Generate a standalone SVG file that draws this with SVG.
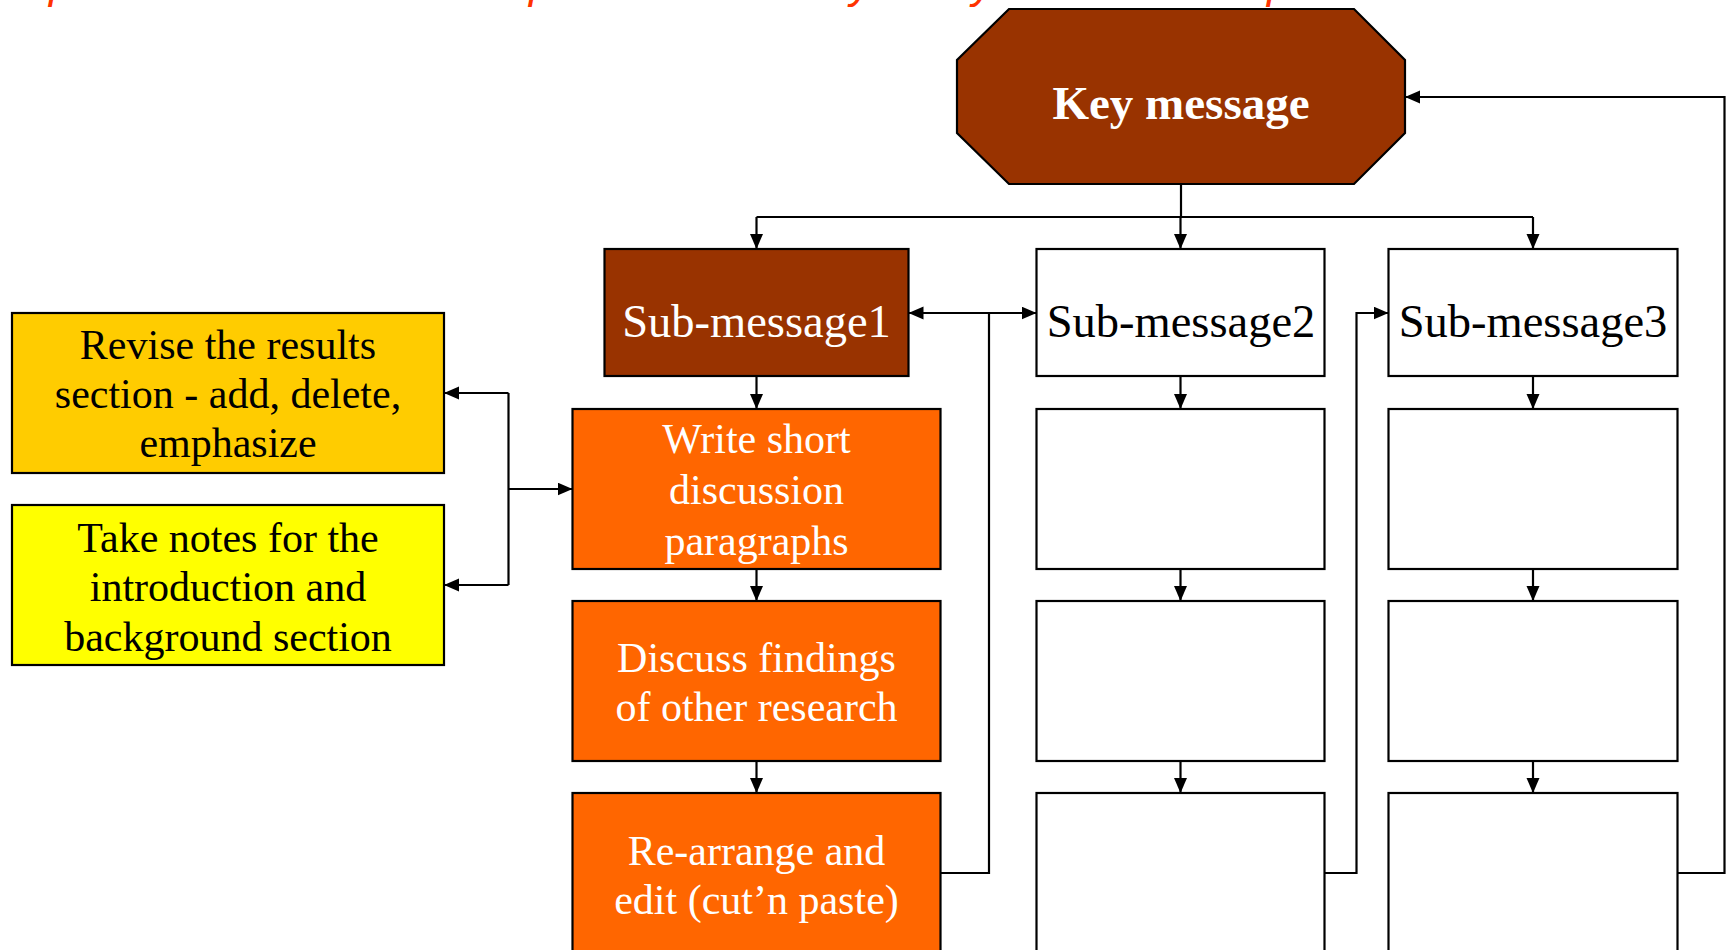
<svg xmlns="http://www.w3.org/2000/svg" width="1729" height="950" viewBox="0 0 1729 950">
  <style>
    .box { stroke: #000; stroke-width: 2.2; }
    .brown { fill: #993300; }
    .orange { fill: #FF6600; }
    .amber { fill: #FFCC00; }
    .yellow { fill: #FFFF00; }
    .white { fill: #FFFFFF; }
    .t { font-family: "Liberation Serif", "Times New Roman", serif; text-anchor: middle; }
    .tb { font-size: 42px; }
    .ts { font-size: 46.5px; }
    .tk { font-size: 47px; font-weight: bold; }
    .tw { fill: #FFFFFF; }
    .tk0 { fill: #000000; }
    .conn { fill: none; stroke: #000; stroke-width: 2.2; }
    .title { font-family: "Liberation Sans", Arial, sans-serif; font-style: italic; font-size: 44px; fill: #FF3300; }
  </style>
  <defs>
    <marker id="arr" markerUnits="userSpaceOnUse" markerWidth="16" markerHeight="14" refX="15" refY="6.5" orient="auto-start-reverse">
      <path d="M0,0 L15,6.5 L0,13 Z" fill="#000"/>
    </marker>
  </defs>
  <rect width="1729" height="950" fill="#FFFFFF"/>

  <!-- clipped red title (only descenders visible) -->
  <g id="title">
    <text class="title" x="49" y="-2">p</text>
    <text class="title" x="529" y="-2">p</text>
    <text class="title" x="850" y="-2">y</text>
    <text class="title" x="972" y="-2">y</text>
    <text class="title" x="1267" y="-2">p</text>
  </g>

  <g id="connectors">
    <!-- key to sub-messages -->
    <path class="conn" d="M1181,184 V217"/>
    <path class="conn" d="M756.5,217 H1533"/>
    <path class="conn" marker-end="url(#arr)" d="M756.5,217 V249"/>
    <path class="conn" marker-end="url(#arr)" d="M1180.5,217 V249"/>
    <path class="conn" marker-end="url(#arr)" d="M1533,217 V249"/>
    <!-- column 1 down arrows -->
    <path class="conn" marker-end="url(#arr)" d="M756.5,376 V409"/>
    <path class="conn" marker-end="url(#arr)" d="M756.5,569 V601"/>
    <path class="conn" marker-end="url(#arr)" d="M756.5,761 V793"/>
    <!-- column 2 down arrows -->
    <path class="conn" marker-end="url(#arr)" d="M1180.5,376 V409"/>
    <path class="conn" marker-end="url(#arr)" d="M1180.5,569 V601"/>
    <path class="conn" marker-end="url(#arr)" d="M1180.5,761 V793"/>
    <!-- column 3 down arrows -->
    <path class="conn" marker-end="url(#arr)" d="M1533,376 V409"/>
    <path class="conn" marker-end="url(#arr)" d="M1533,569 V601"/>
    <path class="conn" marker-end="url(#arr)" d="M1533,761 V793"/>
    <!-- sub1 <-> sub2 -->
    <path class="conn" marker-start="url(#arr)" marker-end="url(#arr)" d="M908.5,313 H1036.5"/>
    <path class="conn" d="M940.5,873 H989 V313"/>
    <!-- col2 -> sub3 -->
    <path class="conn" marker-end="url(#arr)" d="M1324.5,873 H1356.5 V313 H1388.5"/>
    <!-- col3 -> key -->
    <path class="conn" marker-end="url(#arr)" d="M1677.5,873 H1724.5 V97 H1405"/>
    <!-- left side -->
    <path class="conn" d="M508.5,393 V585"/>
    <path class="conn" marker-end="url(#arr)" d="M508.5,393 H444"/>
    <path class="conn" marker-end="url(#arr)" d="M508.5,585 H444"/>
    <path class="conn" marker-end="url(#arr)" d="M508.5,489 H572.5"/>
  </g>

  <g id="key-message">
    <polygon class="box brown" points="1009,9 1354,9 1405,60 1405,133 1354,184 1009,184 957,133 957,60"/>
    <text class="t tk tw" x="1181" y="119">Key message</text>
  </g>

  <g id="sub-message1">
    <rect class="box brown" x="604.5" y="249" width="304" height="127"/>
    <text class="t ts tw" x="756.5" y="336.5">Sub-message1</text>
  </g>
  <g id="sub-message2">
    <rect class="box white" x="1036.5" y="249" width="288" height="127"/>
    <text class="t ts tk0" x="1181" y="336.5">Sub-message2</text>
  </g>
  <g id="sub-message3">
    <rect class="box white" x="1388.5" y="249" width="289" height="127"/>
    <text class="t ts tk0" x="1533" y="336.5">Sub-message3</text>
  </g>

  <g id="write-short">
    <rect class="box orange" x="572.5" y="409" width="368" height="160"/>
    <text class="t tb tw" x="756.5" y="453">Write short</text>
    <text class="t tb tw" x="756.5" y="504">discussion</text>
    <text class="t tb tw" x="756.5" y="555">paragraphs</text>
  </g>
  <g id="discuss-findings">
    <rect class="box orange" x="572.5" y="601" width="368" height="160"/>
    <text class="t tb tw" x="756.5" y="672">Discuss findings</text>
    <text class="t tb tw" x="756.5" y="721">of other research</text>
  </g>
  <g id="rearrange">
    <rect class="box orange" x="572.5" y="793" width="368" height="200"/>
    <text class="t tb tw" x="756.5" y="865">Re-arrange and</text>
    <text class="t tb tw" x="756.5" y="914">edit (cut’n paste)</text>
  </g>

  <g id="col2-row2"><rect class="box white" x="1036.5" y="409" width="288" height="160"/></g>
  <g id="col2-row3"><rect class="box white" x="1036.5" y="601" width="288" height="160"/></g>
  <g id="col2-row4"><rect class="box white" x="1036.5" y="793" width="288" height="200"/></g>
  <g id="col3-row2"><rect class="box white" x="1388.5" y="409" width="289" height="160"/></g>
  <g id="col3-row3"><rect class="box white" x="1388.5" y="601" width="289" height="160"/></g>
  <g id="col3-row4"><rect class="box white" x="1388.5" y="793" width="289" height="200"/></g>

  <g id="revise-results">
    <rect class="box amber" x="12" y="313" width="432" height="160"/>
    <text class="t tb tk0" x="228" y="359">Revise the results</text>
    <text class="t tb tk0" x="228" y="408">section - add, delete,</text>
    <text class="t tb tk0" x="228" y="457">emphasize</text>
  </g>
  <g id="take-notes">
    <rect class="box yellow" x="12" y="505" width="432" height="160"/>
    <text class="t tb tk0" x="228" y="552">Take notes for the</text>
    <text class="t tb tk0" x="228" y="601">introduction and</text>
    <text class="t tb tk0" x="228" y="651">background section</text>
  </g>
</svg>
